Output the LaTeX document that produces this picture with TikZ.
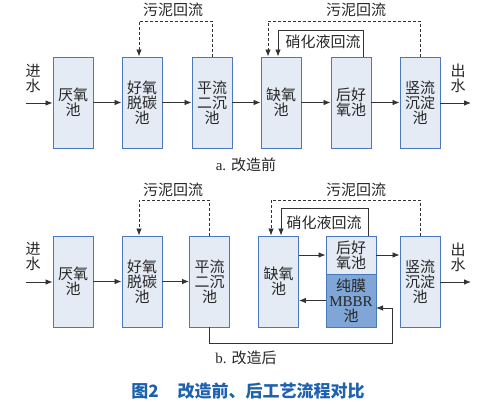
\documentclass[tikz,border=0pt]{standalone}
\usepackage{fontspec}
\setmainfont{Liberation Serif}
\newfontfamily\cjk{Noto Sans CJK SC}
\usetikzlibrary{arrows.meta,calc}
\definecolor{boxfill}{HTML}{E4EBF5}
\definecolor{boxedge}{HTML}{4A78BC}
\definecolor{mbbrfill}{HTML}{7FA6D6}
\definecolor{linec}{HTML}{333333}
\definecolor{capblue}{HTML}{1E62AE}
\tikzset{
  txt/.style={font=\cjk\fontsize{15}{15}\selectfont, inner sep=0pt, align=center, text=black!85},
  pool/.style={txt, draw=boxedge, fill=boxfill, line width=0.9pt, minimum width=40pt, minimum height=91pt},
  flow/.style={draw=linec, line width=0.8pt, -{Latex[length=7pt,width=5.5pt]}},
  ret/.style={flow, dash pattern=on 3pt off 2pt},
}
\begin{document}
\begin{tikzpicture}[x=1pt,y=-1pt]
\useasboundingbox (0,0) rectangle (486,406);
% ---------- a ----------
\node[pool] (A1) at (73,102.5) {厌氧\\池};
\node[pool] (A2) at (142,102.5) {好氧\\脱碳\\池};
\node[pool] (A3) at (212,102.5) {平流\\二沉\\池};
\node[pool] (A4) at (281,102.5) {缺氧\\池};
\node[pool] (A5) at (351,102.5) {后好\\氧池};
\node[pool] (A6) at (420,102.5) {竖流\\沉淀\\池};
\node[txt] (inA) at (33,78) {进\\水};
\node[txt] (outA) at (458,78) {出\\水};
\coordinate (ainS) at (26,103);
\coordinate (aoutE) at (471,103);
\draw[flow] (ainS) -- (ainS -| A1.west);
\draw[flow] (A1) -- (A2);
\draw[flow] (A2) -- (A3);
\draw[flow] (A3) -- (A4);
\draw[flow] (A4) -- (A5);
\draw[flow] (A5) -- (A6);
\draw[flow] (A6.east |- aoutE) -- (aoutE);
\coordinate (sl1) at (139,21);
\coordinate (sr1) at (268,21);
\coordinate (n1) at (278,30);
\coordinate (n1s) at (363,57);
\draw[ret] (A3.north) |- (sl1) -- (sl1 |- A2.north);
\draw[ret] (A6.north) |- (sr1) -- (sr1 |- A4.north);
\draw[flow] (n1s |- A5.north) |- (n1) -- (n1 |- A4.north);
\node[txt] (la1) at (173,10) {污泥回流};
\node[txt] (la2) at (356,10) {污泥回流};
\node[txt] (la3) at (323,42) {硝化液回流};
\node[txt] (capa) at (246,165) {\rmfamily a. \cjk 改造前};
% ---------- b ----------
\node[pool] (B1) at (73,281.5) {厌氧\\池};
\node[pool] (B2) at (142,281.5) {好氧\\脱碳\\池};
\node[pool] (B3) at (209.5,281.5) {平流\\二沉\\池};
\node[pool] (B4) at (278.5,281.5) {缺氧\\池};
\node[pool, minimum width=50pt, minimum height=38pt] (B5a) at (351,255) {后好\\氧池};
\node[pool, minimum width=50pt, minimum height=53pt, fill=mbbrfill] (B5b) at (351,300.5) {纯膜\\{\rmfamily MBBR}\\池};
\node[pool] (B6) at (420,281.5) {竖流\\沉淀\\池};
\node[txt] (inB) at (33,256) {进\\水};
\node[txt] (outB) at (458,257) {出\\水};
\coordinate (binS) at (26,282);
\coordinate (boutE) at (471,282);
\draw[flow] (binS) -- (binS -| B1.west);
\draw[flow] (B1) -- (B2);
\draw[flow] (B2) -- (B3);
\draw[flow] (B4.east |- B5a) -- (B5a.west);
\draw[flow] (B5a.east) -- (B5a.east -| B6.west);
\draw[flow] (B5b.west) -- (B5b.west -| B4.east);
\draw[flow] (B6.east |- boutE) -- (boutE);
\coordinate (r1) at (392,343);
\coordinate (r2) at (376,308);
\draw[flow] (B3.south) |- (r1) |- (r2);
\coordinate (sl2) at (139,200);
\coordinate (sr2) at (271,200);
\coordinate (n2) at (281,208);
\coordinate (n2s) at (368,236);
\draw[ret] (B3.north) |- (sl2) -- (sl2 |- B2.north);
\draw[ret] (B6.north) |- (sr2) -- (sr2 |- B4.north);
\draw[flow] (n2s |- B5a.north) |- (n2) -- (n2 |- B4.north);
\node[txt] (lb1) at (173,190) {污泥回流};
\node[txt] (lb2) at (356,190) {污泥回流};
\node[txt] (lb3) at (324,223) {硝化液回流};
\node[txt] (capb) at (246,358) {\rmfamily b. \cjk 改造后};
\node[font=\cjk\bfseries\fontsize{17}{17}\selectfont, text=capblue, inner sep=0pt] (fig) at (248,391) {图2\hspace{1.1em}改造前、后工艺流程对比};
\end{tikzpicture}
\end{document}
